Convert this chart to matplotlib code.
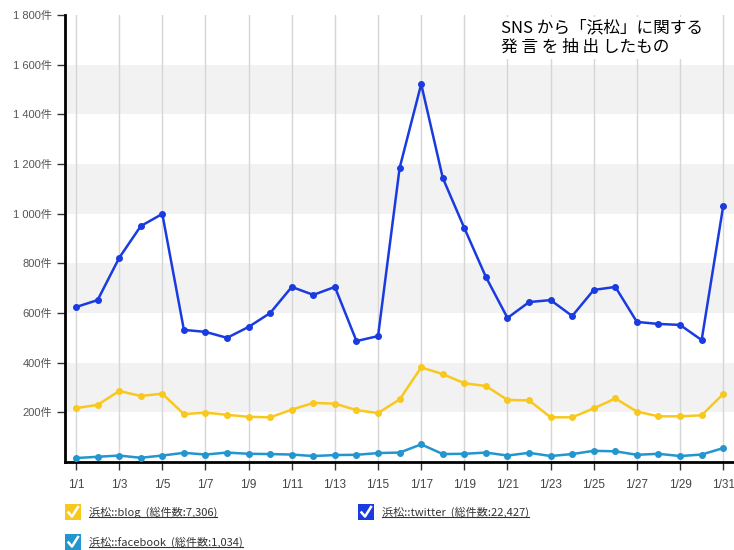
import numpy as np
import matplotlib
matplotlib.use("Agg")
import matplotlib.pyplot as plt
from matplotlib.patches import Rectangle
from matplotlib.lines import Line2D

plt.rcParams["font.family"] = ["Liberation Sans", "Noto Sans CJK JP", "DejaVu Sans"]

days = list(range(1, 32))
twitter = [624, 652, 822, 950, 999, 532, 524, 500, 544, 600,
           705, 673, 705, 487, 507, 1184, 1522, 1144, 942, 745,
           580, 644, 652, 588, 693, 705, 564, 556, 552, 491, 1031]
blog = [217, 230, 286, 266, 275, 193, 199, 190, 182, 180,
        211, 238, 235, 209, 197, 252, 381, 354, 317, 306,
        250, 248, 180, 180, 216, 256, 203, 184, 184, 188, 274]
facebook = [16, 21, 26, 17, 26, 37, 30, 38, 33, 32,
            30, 24, 28, 29, 36, 38, 71, 32, 33, 38,
            26, 37, 24, 32, 45, 43, 29, 33, 24, 30, 56]
x_labels = [f"1/{d}" for d in days[::2]]
y_ticks = list(range(200, 1801, 200))

legend_items = [
    ("浜松::blog  (総件数:7,306)", "#f9c81e"),
    ("浜松::twitter  (総件数:22,427)", "#1a3be0"),
    ("浜松::facebook  (総件数:1,034)", "#2395cf"),
]
note = "SNS から「浜松」に関する\n発 言 を 抽 出 したもの"

fig = plt.figure(figsize=(7.34, 5.5), dpi=100)
ax = fig.add_axes([0.0886, 0.16, 0.9114, 0.8127])

ax.set_xlim(0.49, 31.5)
ax.set_ylim(0, 1800)

# alternating horizontal bands
for lo in [200, 600, 1000, 1400]:
    ax.axhspan(lo, lo + 200, color="#f2f2f2", zorder=0, lw=0)
for d in days[::2]:
    ax.axvline(d, color="#d6d6d6", lw=1, zorder=1)

ax.plot(days, blog, color=legend_items[0][1], lw=1.8, marker="o", ms=4, zorder=3)
ax.plot(days, twitter, color=legend_items[1][1], lw=1.8, marker="o", ms=4, zorder=3)
ax.plot(days, facebook, color=legend_items[2][1], lw=1.8, marker="o", ms=4, zorder=3)

ax.set_xticks(days[::2])
ax.set_xticklabels(x_labels, fontsize=8.5, color="#444444")
ax.set_yticks(y_ticks)
ax.set_yticklabels([f"{v // 1000} {v % 1000:03d}件" if v >= 1000 else f"{v}件" for v in y_ticks],
                   fontsize=8, color="#555555")
ax.tick_params(axis="both", direction="out", length=6, width=1, color="#333333")
ax.tick_params(axis="x", pad=6)

for s in ["top", "right"]:
    ax.spines[s].set_visible(False)
for s in ["left", "bottom"]:
    ax.spines[s].set_linewidth(2)
    ax.spines[s].set_color("black")

ax.text(0.652, 0.99, note, transform=ax.transAxes, fontsize=12, va="top", ha="left",
        linespacing=1.2, zorder=5, family=["Noto Sans CJK JP", "DejaVu Sans"],
        bbox=dict(facecolor="white", edgecolor="none", pad=2))

# legend with checkboxes
positions = [(65, 512), (358, 512), (65, 542)]
fig.canvas.draw()
renderer = fig.canvas.get_renderer()
W, H = 734, 550
for (label, color), (px, py) in zip(legend_items, positions):
    size = 16
    fig.patches.append(Rectangle((px / W, (H - py - size / 2) / H), size / W, size / H,
                                 transform=fig.transFigure, facecolor=color,
                                 edgecolor="none"))
    cx = [px + 3.5, px + 7, px + 13]
    cy = [py + 0.5, py + 4.5, py - 5]
    fig.lines.append(Line2D([c / W for c in cx], [(H - c) / H for c in cy],
                            transform=fig.transFigure, color="white", lw=1.8))
    t = fig.text((px + 24) / W, (H - py) / H, label, fontsize=8, color="#333333",
                 va="center", ha="left", family=["Noto Sans CJK JP", "DejaVu Sans"])
    bb = t.get_window_extent(renderer)
    fig.lines.append(Line2D([bb.x0 / W, bb.x1 / W], [(bb.y0 + 1) / H] * 2,
                            transform=fig.transFigure, color="#333333", lw=0.8))

fig.savefig("out.png", dpi=100)
